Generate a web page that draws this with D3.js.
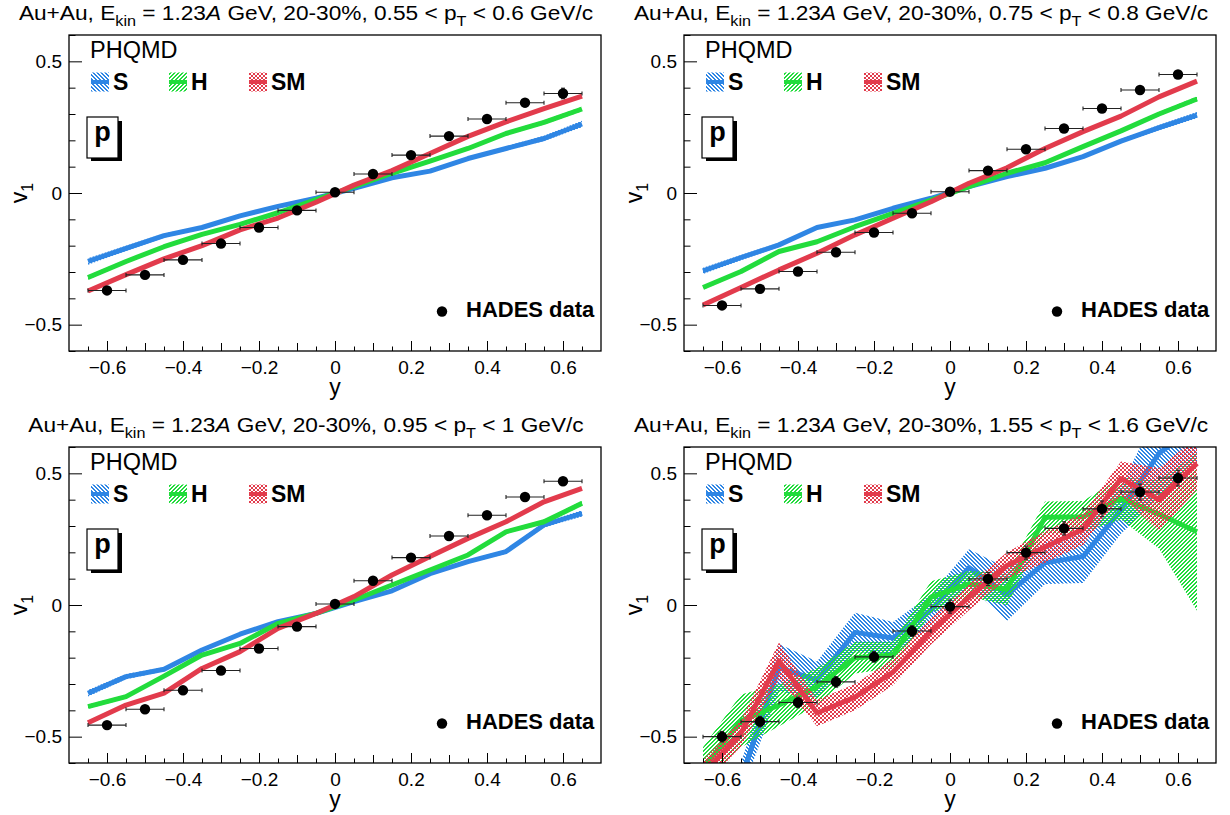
<!DOCTYPE html>
<html>
<head>
<meta charset="utf-8">
<title>PHQMD vs HADES: proton v1(y)</title>
<script src="https://d3js.org/d3.v7.min.js"></script>
<style>
  body { margin: 0; background: #fff; }
  svg { font-family: "Liberation Sans", Arial, Helvetica, sans-serif; }
</style>
</head>
<body>
<svg id="chart" width="1230" height="815"></svg>
<script>

// rapidity points of the PHQMD curves
var yModel = [-0.65, -0.55, -0.45, -0.35, -0.25, -0.15, -0.05, 0.05, 0.15, 0.25, 0.35, 0.45, 0.55, 0.65];
// rapidity bins of the HADES points
var yData = [-0.6, -0.5, -0.4, -0.3, -0.2, -0.1, 0, 0.1, 0.2, 0.3, 0.4, 0.5, 0.6];

var ptLow = ["0.55", "0.75", "0.95", "1.55"];
var ptHigh = ["0.6", "0.8", "1", "1.6"];

// tick values
var xMajor = [-0.6, -0.4, -0.2, 0, 0.2, 0.4, 0.6];
var xMid = [-0.5, -0.3, -0.1, 0.1, 0.3, 0.5];
var xMinor = [-0.65, -0.55, -0.45, -0.35, -0.25, -0.15, -0.05, 0.05, 0.15, 0.25, 0.35, 0.45, 0.55, 0.65];
var yMajor = [-0.5, 0, 0.5];
var yMinor = [-0.6, -0.4, -0.3, -0.2, -0.1, 0.1, 0.2, 0.3, 0.4, 0.6];

// panel 1: 0.55 < pT < 0.6
var hades1 = [-0.370, -0.311, -0.254, -0.192, -0.131, -0.066, 0.003, 0.072, 0.144, 0.216, 0.281, 0.343, 0.378];
var hadesErr1 = [0.008, 0.008, 0.007, 0.007, 0.006, 0.006, 0.006, 0.006, 0.007, 0.008, 0.012, 0.015, 0.02];
var s1 = [-0.26, -0.21, -0.162, -0.131, -0.087, -0.051, -0.02, 0.018, 0.058, 0.083, 0.131, 0.169, 0.207, 0.262];
var h1 = [-0.321, -0.26, -0.204, -0.157, -0.119, -0.075, -0.025, 0.024, 0.075, 0.121, 0.169, 0.226, 0.268, 0.319];
var sm1 = [-0.372, -0.31, -0.25, -0.2, -0.14, -0.095, -0.035, 0.03, 0.085, 0.15, 0.215, 0.27, 0.32, 0.368];

// panel 2: 0.75 < pT < 0.8
var hades2 = [-0.427, -0.364, -0.298, -0.225, -0.150, -0.077, 0.005, 0.085, 0.166, 0.245, 0.321, 0.391, 0.450];
var hadesErr2 = [0.008, 0.008, 0.007, 0.007, 0.006, 0.006, 0.006, 0.006, 0.007, 0.008, 0.01, 0.012, 0.015];
var s2 = [-0.296, -0.245, -0.197, -0.131, -0.102, -0.058, -0.02, 0.024, 0.062, 0.094, 0.138, 0.197, 0.248, 0.296];
var h2 = [-0.359, -0.298, -0.222, -0.185, -0.128, -0.077, -0.027, 0.024, 0.075, 0.115, 0.176, 0.236, 0.3, 0.357];
var sm2 = [-0.425, -0.359, -0.292, -0.229, -0.159, -0.096, -0.033, 0.037, 0.096, 0.169, 0.233, 0.292, 0.365, 0.425];

// panel 3: 0.95 < pT < 1
var hades3 = [-0.456, -0.396, -0.324, -0.249, -0.165, -0.082, 0.004, 0.092, 0.18, 0.262, 0.341, 0.41, 0.47];
var hadesErr3 = [0.01, 0.009, 0.008, 0.008, 0.007, 0.007, 0.007, 0.007, 0.008, 0.009, 0.01, 0.012, 0.014];
var s3 = [-0.335, -0.272, -0.244, -0.171, -0.111, -0.063, -0.032, 0.013, 0.054, 0.119, 0.165, 0.203, 0.304, 0.348];
var h3 = [-0.386, -0.348, -0.27, -0.19, -0.146, -0.07, -0.032, 0.019, 0.076, 0.133, 0.19, 0.278, 0.316, 0.386];
var sm3 = [-0.447, -0.38, -0.335, -0.241, -0.177, -0.089, -0.032, 0.032, 0.114, 0.184, 0.253, 0.316, 0.392, 0.443];

// panel 4: 1.55 < pT < 1.6
var hades4 = [-0.5, -0.443, -0.37, -0.292, -0.197, -0.099, -0.006, 0.099, 0.199, 0.291, 0.365, 0.429, 0.482];
var hadesErr4 = [0.02, 0.02, 0.02, 0.02, 0.02, 0.02, 0.025, 0.025, 0.025, 0.025, 0.03, 0.03, 0.03];
var s4 = [-0.85, -0.66, -0.238, -0.285, -0.104, -0.125, -0.02, 0.142, 0.04, 0.16, 0.184, 0.361, 0.576, 0.68];
var h4 = [-0.62, -0.44, -0.38, -0.31, -0.2, -0.19, 0.03, 0.08, 0.06, 0.333, 0.335, 0.405, 0.345, 0.278];
var sm4 = [-0.64, -0.487, -0.212, -0.41, -0.35, -0.255, -0.1, 0.03, 0.15, 0.22, 0.288, 0.48, 0.40, 0.538];

// model band half-widths
var sErrLow = [0.012, 0.01, 0.008, 0.006, 0.006, 0.005, 0.005, 0.005, 0.005, 0.006, 0.006, 0.008, 0.01, 0.012];
var hErrLow = [0.008, 0.007, 0.006, 0.005, 0.005, 0.005, 0.005, 0.005, 0.005, 0.005, 0.006, 0.007, 0.008, 0.009];
var smErrLow = [0.006, 0.006, 0.005, 0.005, 0.005, 0.004, 0.004, 0.004, 0.004, 0.005, 0.005, 0.005, 0.006, 0.006];
var sErr4 = [0.06, 0.06, 0.09, 0.07, 0.075, 0.06, 0.06, 0.07, 0.1, 0.08, 0.1, 0.09, 0.17, 0.15];
var hErr4 = [0.08, 0.1, 0.08, 0.07, 0.06, 0.05, 0.06, 0.05, 0.06, 0.06, 0.06, 0.08, 0.13, 0.3];
var smErr4 = [0.05, 0.05, 0.07, 0.05, 0.05, 0.05, 0.05, 0.05, 0.05, 0.06, 0.06, 0.065, 0.12, 0.1];

var panels = [
  {col: 0, row: 0, hades: hades1, hadesErr: hadesErr1, s: s1, h: h1, sm: sm1, sErr: sErrLow, hErr: hErrLow, smErr: smErrLow},
  {col: 1, row: 0, hades: hades2, hadesErr: hadesErr2, s: s2, h: h2, sm: sm2, sErr: sErrLow, hErr: hErrLow, smErr: smErrLow},
  {col: 0, row: 1, hades: hades3, hadesErr: hadesErr3, s: s3, h: h3, sm: sm3, sErr: sErrLow, hErr: hErrLow, smErr: smErrLow},
  {col: 1, row: 1, hades: hades4, hadesErr: hadesErr4, s: s4, h: h4, sm: sm4, sErr: sErr4, hErr: hErr4, smErr: smErr4}
];

var config = {
  "panelW": 615,
  "panelH": 412,
  "left": 69,
  "right": 601,
  "top": 35,
  "bottom": 351
};

var colS = "#2f86e4", colH = "#22dc3c", colSM = "#e23b4c";

var svg = d3.select("#chart");
var defs = svg.append("defs");

// pixel hatch patterns (ROOT-like fill styles)
function hatch(id, color, size, cells) {
  var p = defs.append("pattern")
    .attr("id", id)
    .attr("patternUnits", "userSpaceOnUse")
    .attr("width", size)
    .attr("height", size);
  cells.forEach(function(c) {
    p.append("rect")
      .attr("x", c[0]).attr("y", c[1])
      .attr("width", 1).attr("height", 1)
      .attr("fill", color)
      .attr("shape-rendering", "crispEdges");
  });
}
hatch("hatchS", colS, 4, [[0, 0], [1, 0], [1, 1], [2, 1], [2, 2], [3, 2], [3, 3], [0, 3]]);
hatch("hatchH", colH, 4, [[3, 0], [2, 0], [2, 1], [1, 1], [1, 2], [0, 2], [0, 3], [3, 3]]);
hatch("hatchSM", colSM, 4, [[0, 0], [1, 1], [2, 2], [3, 3], [3, 0], [2, 1], [1, 2], [0, 3]]);

defs.append("clipPath").attr("id", "frameClip")
  .append("rect")
    .attr("x", config.left)
    .attr("y", config.top)
    .attr("width", config.right - config.left)
    .attr("height", config.bottom - config.top);

var x = d3.scaleLinear().domain([-0.7, 0.7]).range([config.left, config.right]);
var y = d3.scaleLinear().domain([-0.6, 0.6]).range([config.bottom, config.top]);

var fmt = function(d) { return (d < 0 ? "\u2212" : "") + Math.abs(d); };

var series = [
  {key: "s", err: "sErr", color: colS, fill: "url(#hatchS)", label: "S"},
  {key: "h", err: "hErr", color: colH, fill: "url(#hatchH)", label: "H"},
  {key: "sm", err: "smErr", color: colSM, fill: "url(#hatchSM)", label: "SM"}
];

panels.forEach(function(pn, pi) {
  var g = svg.append("g")
    .attr("transform", `translate(${pn.col * config.panelW},${pn.row * config.panelH})`);

  // title
  var t = g.append("text")
    .attr("transform", "translate(306,19.5) scale(1.08,1)")
    .attr("text-anchor", "middle")
    .style("font-size", "21px");
  t.append("tspan").text("Au+Au, E");
  t.append("tspan").attr("dy", 6).style("font-size", "15px").text("kin");
  t.append("tspan").attr("dy", -6).text(" = 1.23");
  t.append("tspan").style("font-style", "italic").text("A");
  t.append("tspan").text(` GeV, 20-30%, ${ptLow[pi]} < p`);
  t.append("tspan").attr("dy", 6).style("font-size", "15px").text("T");
  t.append("tspan").attr("dy", -6).text(` < ${ptHigh[pi]} GeV/c`);

  // model bands and lines
  var plot = g.append("g").attr("clip-path", "url(#frameClip)");
  series.forEach(function(s) {
    var vals = pn[s.key], errs = pn[s.err];
    var area = d3.area()
      .x(function(d, i) { return x(yModel[i]); })
      .y0(function(d, i) { return y(d - errs[i]); })
      .y1(function(d, i) { return y(d + errs[i]); });
    var line = d3.line()
      .x(function(d, i) { return x(yModel[i]); })
      .y(function(d) { return y(d); });
    plot.append("path")
      .attr("d", area(vals))
      .attr("fill", s.fill)
      .attr("stroke", "none");
    plot.append("path")
      .attr("d", line(vals))
      .attr("fill", "none")
      .attr("stroke", s.color)
      .attr("stroke-width", 5)
      .attr("stroke-linejoin", "round");
  });

  // HADES points
  var pts = g.append("g").attr("class", "hades");
  yData.forEach(function(yy, i) {
    var v = pn.hades[i], e = pn.hadesErr[i];
    var cx = x(yy), cy = y(v);
    var bar = pts.append("g").attr("stroke", "#222").attr("stroke-width", 1.1);
    bar.append("line").attr("x1", x(yy - 0.05)).attr("x2", x(yy + 0.05)).attr("y1", cy).attr("y2", cy);
    bar.append("line").attr("x1", x(yy - 0.05)).attr("x2", x(yy - 0.05)).attr("y1", cy - 2).attr("y2", cy + 2);
    bar.append("line").attr("x1", x(yy + 0.05)).attr("x2", x(yy + 0.05)).attr("y1", cy - 2).attr("y2", cy + 2);
    bar.append("line").attr("x1", cx).attr("x2", cx).attr("y1", y(v - e)).attr("y2", y(v + e));
    bar.append("line").attr("x1", cx - 2).attr("x2", cx + 2).attr("y1", y(v - e)).attr("y2", y(v - e));
    bar.append("line").attr("x1", cx - 2).attr("x2", cx + 2).attr("y1", y(v + e)).attr("y2", y(v + e));
    pts.append("circle").attr("cx", cx).attr("cy", cy).attr("r", 5.2).attr("fill", "#000");
  });

  // axes, ROOT style ticks inside the frame
  function styleAxis(a) {
    a.select(".domain").remove();
    a.selectAll(".tick line").attr("stroke", "#000").attr("stroke-width", 1);
    a.selectAll(".tick text")
      .attr("fill", "#000")
      .style("font-family", "'Liberation Sans', Arial, sans-serif")
      .style("font-size", "19px");
  }
  var xb = g.append("g").attr("transform", `translate(0,${config.bottom})`);
  xb.append("g").call(d3.axisBottom(x).tickValues(xMinor).tickSize(-4.5).tickFormat("")).call(styleAxis);
  xb.append("g").call(d3.axisBottom(x).tickValues(xMid).tickSize(-8).tickFormat("")).call(styleAxis);
  xb.append("g").call(d3.axisBottom(x).tickValues(xMajor).tickSize(-10).tickPadding(9.5).tickFormat(fmt)).call(styleAxis);

  var yl = g.append("g").attr("transform", `translate(${config.left},0)`);
  yl.append("g").call(d3.axisLeft(y).tickValues(yMinor).tickSize(-6.5).tickFormat("")).call(styleAxis);
  yl.append("g").call(d3.axisLeft(y).tickValues(yMajor).tickSize(-13).tickPadding(7).tickFormat(fmt)).call(styleAxis);

  // frame
  g.append("rect")
    .attr("x", config.left)
    .attr("y", config.top)
    .attr("width", config.right - config.left)
    .attr("height", config.bottom - config.top)
    .attr("fill", "none")
    .attr("stroke", "#000")
    .attr("stroke-width", 1.3);

  // axis titles
  g.append("text")
    .attr("x", x(0))
    .attr("y", 395)
    .attr("text-anchor", "middle")
    .style("font-size", "23px")
    .text("y");
  var vt = g.append("text")
    .attr("transform", `translate(27,${y(0)}) rotate(-90)`)
    .attr("text-anchor", "middle")
    .style("font-size", "23px");
  vt.append("tspan").text("v");
  vt.append("tspan").attr("dy", 6).style("font-size", "16px").text("1");

  // PHQMD legend
  g.append("text").attr("x", 90).attr("y", 57.5).style("font-size", "23.5px").text("PHQMD");
  var legX = [91, 169, 249];
  series.forEach(function(s, i) {
    g.append("rect")
      .attr("x", legX[i]).attr("y", 72.5)
      .attr("width", 18).attr("height", 19)
      .attr("fill", s.fill);
    g.append("line")
      .attr("x1", legX[i]).attr("x2", legX[i] + 18)
      .attr("y1", 82).attr("y2", 82)
      .attr("stroke", s.color).attr("stroke-width", 4);
    g.append("text")
      .attr("x", legX[i] + 22).attr("y", 89.5)
      .style("font-size", "23px").style("font-weight", "bold")
      .text(s.label);
  });

  // particle label box with shadow
  g.append("rect").attr("x", 91).attr("y", 121).attr("width", 31).attr("height", 40).attr("fill", "#000");
  g.append("rect").attr("x", 87).attr("y", 117).attr("width", 31).attr("height", 41)
    .attr("fill", "#fff").attr("stroke", "#000").attr("stroke-width", 1.2);
  g.append("text").attr("x", 102.5).attr("y", 141)
    .attr("text-anchor", "middle")
    .style("font-size", "27px").style("font-weight", "bold")
    .text("p");

  // HADES legend
  g.append("circle").attr("cx", 442).attr("cy", 311.5).attr("r", 5.2).attr("fill", "#000");
  g.append("text").attr("x", 466).attr("y", 316.5)
    .style("font-size", "22px").style("font-weight", "bold")
    .text("HADES data");
});

</script>
</body>
</html>
